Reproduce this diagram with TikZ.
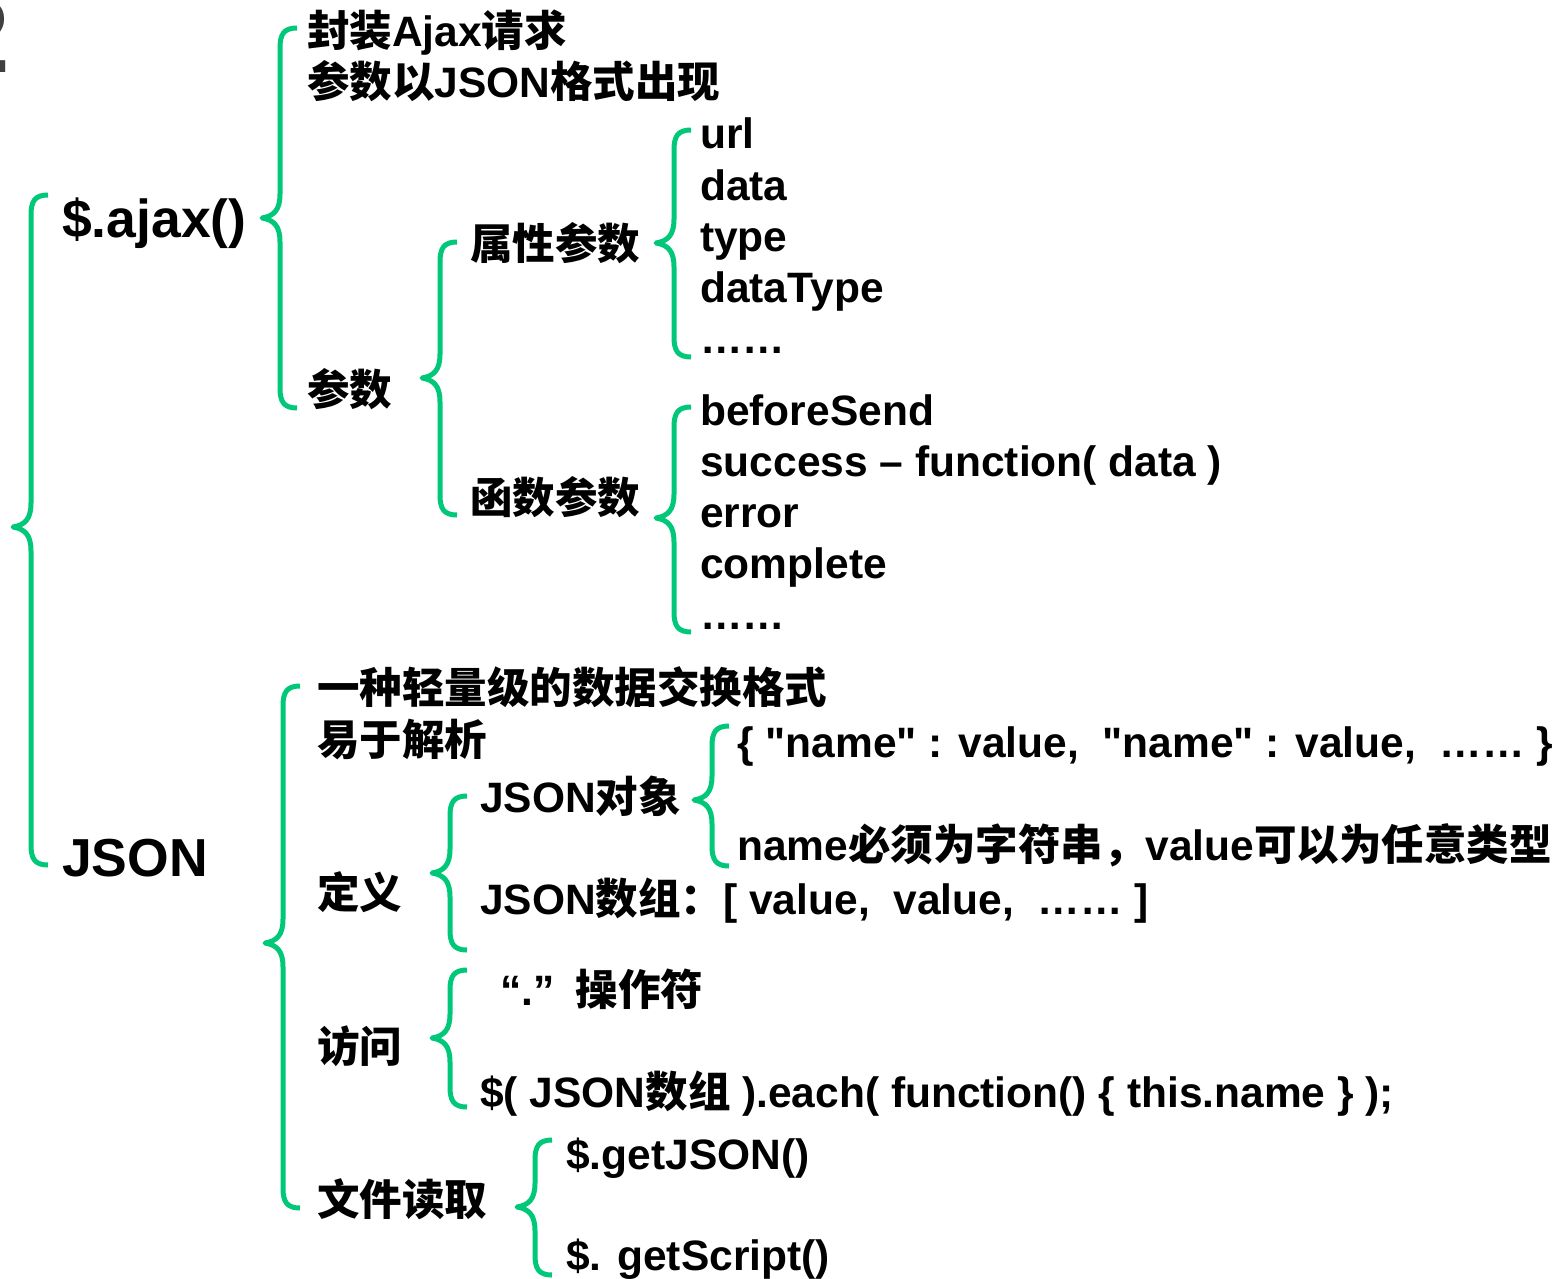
\documentclass[tikz,border=0pt]{standalone}
\usepackage{fontspec}
\setmainfont{Liberation Sans}
\newfontfamily\cjk{Noto Sans CJK SC}
\newcommand\zh[1]{{\cjk\bfseries #1}}
\newcommand\qq{\textquotedbl}
\definecolor{brgreen}{RGB}{0,200,120}
\definecolor{darkgr}{RGB}{64,64,64}
\newcommand\grbrace[4]{\draw[brc] (#1+17,#2) .. controls (#1+4,#2) and (#1,#2+6) .. (#1,#2+20) -- (#1,#3-24) .. controls (#1,#3-8) and (#1-6,#3-2) .. (#1-18,#3) .. controls (#1-6,#3+2) and (#1,#3+8) .. (#1,#3+24) -- (#1,#4-20) .. controls (#1,#4-6) and (#1+4,#4) .. (#1+17,#4);}
\begin{document}
\begin{tikzpicture}[x=1pt,y=-1pt,
  txt/.style={anchor=base west,inner sep=0pt,font=\bfseries\fontsize{42.5}{50}\selectfont},
  big/.style={anchor=base west,inner sep=0pt,font=\bfseries\fontsize{53.5}{60}\selectfont},
  brc/.style={draw=brgreen,line width=5pt,line join=round}]
\useasboundingbox (0,0) rectangle (1560,1279);
\node[anchor=base east,inner sep=0pt,text=darkgr,font=\bfseries\fontsize{105}{110}\selectfont] (two) at (10,73) {2};
% braces
\grbrace{31}{195}{527}{865}
\grbrace{280}{28}{218}{408}
\grbrace{440}{242}{378}{515}
\grbrace{674}{130}{243}{357}
\grbrace{674}{407}{518}{632}
\grbrace{283}{686}{943}{1208}
\grbrace{450}{796}{873}{950}
\grbrace{712}{726}{800}{866}
\grbrace{450}{970}{1038}{1107}
\grbrace{535}{1140}{1207}{1275}
% level 1
\node[big] (ajax) at (62,237) {\$.ajax()};
\node[big] (json) at (62,876) {JSON};
% ajax children
\node[txt] (a1) at (307,47) {\zh{封装}Ajax\zh{请求}};
\node[txt] (a2) at (307,98) {\zh{参数以}JSON\zh{格式出现}};
\node[txt] (a3) at (307,405) {\zh{参数}};
\node[txt] (p1) at (470,259) {\zh{属性参数}};
\node[txt] (p2) at (470,513) {\zh{函数参数}};
\node[txt] (d1) at (700,149) {url};
\node[txt] (d2) at (700,200) {data};
\node[txt] (d3) at (700,251) {type};
\node[txt] (d4) at (700,302) {dataType};
\node[txt] (d5) at (700,353) {……};
\node[txt] (e1) at (700,425) {beforeSend};
\node[txt] (e2) at (700,476) {success – function( data )};
\node[txt] (e3) at (700,527) {error};
\node[txt] (e4) at (700,578) {complete};
\node[txt] (e5) at (700,629) {……};
% json children
\node[txt] (j1) at (317,703) {\zh{一种轻量级的数据交换格式}};
\node[txt] (j2) at (317,755) {\zh{易于解析}};
\node[txt] (j3) at (317,908) {\zh{定义}};
\node[txt] (j4) at (317,1062) {\zh{访问}};
\node[txt] (j5) at (317,1215) {\zh{文件读取}};
\node[txt] (k1) at (480,812) {JSON\zh{对象}};
\node[txt] (k2) at (480,914) {JSON\zh{数组：}[ value,\ \ value,\ \ …… ]};
\node[txt] (h1) at (737,757) {\{ \qq name\qq\ : value,\ \ \qq name\qq\ : value,\ \ …… \}};
\node[txt] (h2) at (737,860) {name\zh{必须为字符串，}value\zh{可以为任意类型}};
\node[txt] (m1) at (500,1005) {“.”\hspace{21pt}\zh{操作符}};
\node[txt] (m2) at (480,1107) {\$( JSON\zh{数组} ).each( function() \{ this.name \} );};
\node[txt] (g1) at (566,1169) {\$.getJSON()};
\node[txt] (g2) at (566,1270) {\$. getScript()};
\end{tikzpicture}
\end{document}
